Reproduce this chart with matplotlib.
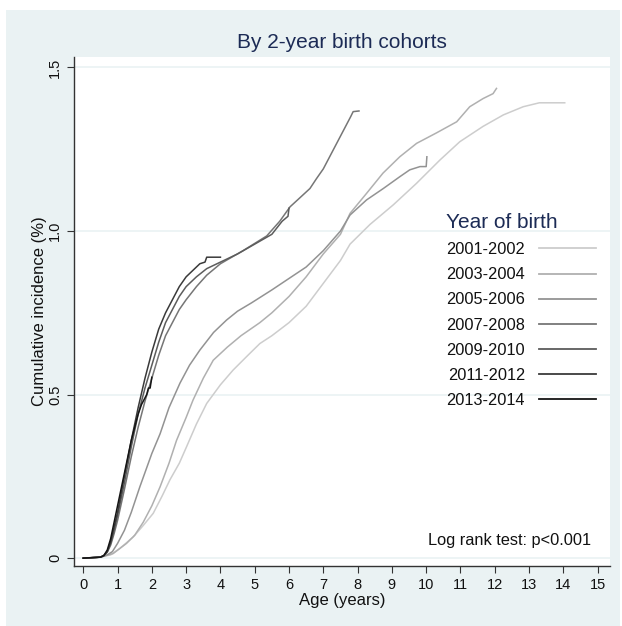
import matplotlib.pyplot as plt
from matplotlib.patches import Rectangle
from matplotlib.lines import Line2D

plt.rcParams['font.family'] = ['Liberation Sans', 'DejaVu Sans']

# Cumulative incidence (%) by age (years)
cohorts = ['2001-2002', '2003-2004', '2005-2006', '2007-2008',
           '2009-2010', '2011-2012', '2013-2014']

age_2001 = [0, 0.5, 0.8, 1.07, 1.46, 1.75, 2.04, 2.3, 2.53, 2.8, 3.01, 3.3, 3.6,
            4.0, 4.37, 4.8, 5.15, 5.5, 6.0, 6.5, 7.0, 7.5, 7.78, 8.36, 9.04, 9.72,
            10.4, 10.98, 11.66, 12.25, 12.83, 13.3, 14.04]
inc_2001 = [0, 0.003, 0.01, 0.03, 0.065, 0.10, 0.137, 0.19, 0.24, 0.29, 0.34,
            0.41, 0.473, 0.53, 0.575, 0.62, 0.656, 0.68, 0.72, 0.77, 0.84, 0.91,
            0.96, 1.02, 1.08, 1.146, 1.217, 1.273, 1.32, 1.355, 1.38, 1.392, 1.392]

age_2003 = [0, 0.5, 0.87, 1.26, 1.5, 1.75, 2.0, 2.24, 2.5, 2.72, 3.0, 3.2, 3.5,
            3.79, 4.2, 4.6, 5.15, 5.5, 6.0, 6.5, 7.0, 7.5, 7.78, 8.26, 8.74, 9.23,
            9.72, 10.3, 10.89, 11.27, 11.66, 11.95, 12.05]
inc_2003 = [0, 0.003, 0.014, 0.045, 0.07, 0.11, 0.16, 0.218, 0.29, 0.36, 0.43,
            0.483, 0.55, 0.605, 0.645, 0.68, 0.72, 0.75, 0.80, 0.86, 0.93, 0.99,
            1.054, 1.115, 1.177, 1.227, 1.268, 1.30, 1.334, 1.38, 1.405, 1.42, 1.436]

age_2005 = [0, 0.5, 0.7, 0.85, 1.0, 1.2, 1.4, 1.65, 2.0, 2.24, 2.5, 2.82, 3.1,
            3.4, 3.8, 4.18, 4.5, 4.9, 5.5, 6.0, 6.5, 7.0, 7.5, 7.78, 8.26, 8.75,
            9.23, 9.52, 9.82, 10.0, 10.02]
inc_2005 = [0, 0.003, 0.01, 0.02, 0.045, 0.085, 0.14, 0.218, 0.32, 0.38, 0.46,
            0.535, 0.59, 0.636, 0.69, 0.728, 0.755, 0.78, 0.82, 0.855, 0.89, 0.94,
            1.0, 1.049, 1.095, 1.13, 1.166, 1.187, 1.197, 1.197, 1.227]

age_2007 = [0, 0.5, 0.6, 0.7, 0.8, 0.9, 1.0, 1.2, 1.4, 1.6, 1.8, 2.0, 2.2, 2.4,
            2.6, 2.8, 3.0, 3.3, 3.6, 4.0, 4.66, 5.35, 5.73, 6.03, 6.3, 6.61, 6.8,
            7.0, 7.2, 7.4, 7.6, 7.8, 7.87, 8.04]
inc_2007 = [0, 0.003, 0.007, 0.018, 0.04, 0.075, 0.115, 0.21, 0.31, 0.40, 0.48,
            0.55, 0.62, 0.68, 0.72, 0.76, 0.79, 0.83, 0.865, 0.90, 0.94, 0.985,
            1.03, 1.074, 1.10, 1.13, 1.16, 1.19, 1.23, 1.27, 1.31, 1.35, 1.365,
            1.367]

age_2009 = [0, 0.5, 0.6, 0.7, 0.8, 0.9, 1.0, 1.2, 1.4, 1.6, 1.8, 2.0, 2.2, 2.4,
            2.6, 2.8, 3.0, 3.3, 3.6, 4.0, 4.5, 5.0, 5.5, 5.8, 5.97, 6.0]
inc_2009 = [0, 0.003, 0.008, 0.02, 0.045, 0.085, 0.13, 0.23, 0.34, 0.44, 0.52,
            0.59, 0.66, 0.72, 0.76, 0.80, 0.83, 0.86, 0.885, 0.905, 0.93, 0.96,
            0.99, 1.03, 1.045, 1.07]

age_2011 = [0, 0.5, 0.6, 0.7, 0.8, 0.9, 1.0, 1.2, 1.4, 1.6, 1.8, 2.0, 2.2, 2.4,
            2.6, 2.8, 3.0, 3.2, 3.4, 3.55, 3.6, 4.0]
inc_2011 = [0, 0.003, 0.008, 0.02, 0.05, 0.095, 0.14, 0.25, 0.36, 0.46, 0.55,
            0.63, 0.70, 0.75, 0.79, 0.83, 0.86, 0.88, 0.90, 0.905, 0.92, 0.92]

age_2013 = [0, 0.5, 0.6, 0.7, 0.8, 0.9, 1.0, 1.1, 1.2, 1.3, 1.4, 1.5, 1.6, 1.7,
            1.8, 1.85, 1.9, 1.95, 2.0]
inc_2013 = [0, 0.003, 0.008, 0.025, 0.06, 0.11, 0.16, 0.21, 0.26, 0.31, 0.36,
            0.40, 0.44, 0.47, 0.49, 0.50, 0.52, 0.52, 0.553]

ages = [age_2001, age_2003, age_2005, age_2007, age_2009, age_2011, age_2013]
incs = [inc_2001, inc_2003, inc_2005, inc_2007, inc_2009, inc_2011, inc_2013]
greys = ['#cdcdcd', '#b0b0b0', '#939393', '#767676', '#5c5c5c', '#3a3a3a', '#151515']

x_ticks = list(range(0, 16))
y_ticks = [0, 0.5, 1.0, 1.5]
y_ticklabels = ['0', '0.5', '1.0', '1.5']

bg = '#eaf2f3'
navy = '#1c2b55'

fig = plt.figure(figsize=(6.22, 6.26), dpi=100)
fig.patches.append(Rectangle((6 / 622, 0), 614 / 622, 616 / 626,
                             transform=fig.transFigure, facecolor=bg,
                             edgecolor='none', zorder=-10))

ax = fig.add_axes([74 / 622, 1 - 566 / 626, 536 / 622, 509 / 626])
ax.set_facecolor('white')

for yv in y_ticks:
    ax.axhline(yv, color=bg, linewidth=1.2, zorder=0)

for a, c, col, lab in zip(ages, incs, greys, cohorts):
    ax.plot(a, c, color=col, linewidth=1.1, label=lab)

ax.set_xlim(-0.27, 15.36)
ax.set_ylim(-0.024, 1.532)
ax.set_xticks(x_ticks)
ax.set_yticks(y_ticks)
ax.set_yticklabels(y_ticklabels, rotation=90, va='center')
ax.tick_params(axis='both', colors='#333333', labelcolor='#111111',
               labelsize=10.5, length=5, width=0.8)
for s in ['top', 'right']:
    ax.spines[s].set_visible(False)
for s in ['left', 'bottom']:
    ax.spines[s].set_color('#333333')
    ax.spines[s].set_linewidth(1.0)

ax.set_xlabel('Age (years)', fontsize=12, color='#111111', labelpad=1)
ax.set_ylabel('Cumulative incidence (%)', fontsize=12, color='#111111', labelpad=1)
fig.text(342 / 622, 1 - 43 / 626, 'By 2-year birth cohorts', ha='center',
         va='center', fontsize=15, color=navy)

ax.text(0.965, 0.05, 'Log rank test: p<0.001', transform=ax.transAxes,
        ha='right', va='center', fontsize=11.8, color='#111111')

handles = [Line2D([], [], color=col, linewidth=1.3) for col in greys]
leg = ax.legend(handles, cohorts, markerfirst=False, frameon=False,
                loc='upper left', bbox_to_anchor=(446 / 622, 1 - 213 / 626),
                bbox_transform=fig.transFigure, fontsize=11.8,
                handlelength=3.5, handletextpad=0.85, labelspacing=0.62,
                title='Year of birth', title_fontsize=15, alignment='left',
                borderpad=0, borderaxespad=0)
leg.get_title().set_color(navy)
for t in leg.get_texts():
    t.set_color('#111111')

fig.savefig('out.png', dpi=100)
